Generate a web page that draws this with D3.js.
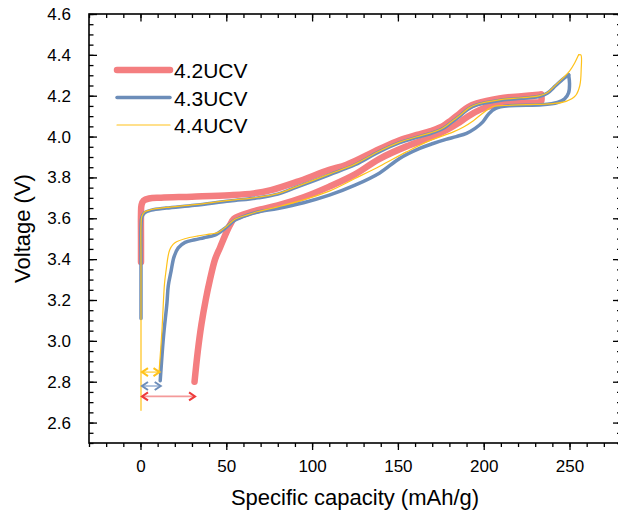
<!DOCTYPE html>
<html>
<head>
<meta charset="utf-8">
<script src="https://cdn.jsdelivr.net/npm/d3@7"></script>
<style>
  html, body { margin: 0; padding: 0; background: #fff; }
  svg { display: block; font-family: "Liberation Sans", Arial, sans-serif; }
</style>
</head>
<body>
<svg id="chart" width="618" height="514"></svg>
<script>
// Charge / discharge curves: [specific capacity (mAh/g), voltage (V)]
const ucv42Charge = [[0.3,3.386],[0.3,3.50],[0.3,3.62],[0.6,3.665],[1.8,3.686],[5,3.697],[12,3.701],[30,3.706],[52,3.713],[66,3.722],[76,3.738],[91,3.778],[110,3.837],[120,3.862],[139,3.938],[151,3.982],[161,4.008],[169,4.027],[176,4.05],[181,4.08],[186,4.113],[191,4.145],[196,4.163],[209,4.187],[222,4.198],[233.5,4.206]];
const ucv42Discharge = [[233.5,4.206],[233.7,4.19],[233.4,4.172],[225,4.166],[215,4.161],[205,4.152],[198,4.132],[191,4.10],[185,4.065],[179,4.035],[169,3.995],[155,3.952],[139,3.89],[125,3.815],[110,3.755],[95,3.703],[80,3.663],[70,3.643],[63,3.627],[58,3.613],[54.5,3.598],[52,3.565],[49.5,3.52],[46.5,3.46],[43.5,3.40],[40.5,3.30],[38,3.20],[35.5,3.08],[33.4,2.95],[31.5,2.80]];

const ucv43Charge = [[0.3,3.11],[0.3,3.40],[0.3,3.56],[0.8,3.605],[2.5,3.628],[6.4,3.64],[15,3.65],[31.6,3.664],[52,3.685],[68.5,3.70],[80,3.718],[91,3.752],[110,3.813],[125,3.862],[139,3.925],[151,3.97],[161,3.996],[169,4.015],[176,4.038],[181,4.068],[186,4.10],[191,4.135],[196,4.155],[209,4.177],[222,4.187],[232,4.196],[237,4.212],[242,4.25],[246,4.28],[249.5,4.302]];
const ucv43Discharge = [[249.5,4.302],[250,4.26],[249.5,4.215],[247,4.183],[243,4.167],[234,4.156],[215,4.151],[207,4.138],[203,4.112],[199.5,4.072],[195,4.04],[190,4.016],[184,4.0],[178,3.986],[170.5,3.966],[162.7,3.942],[151,3.893],[139.4,3.822],[125,3.762],[110,3.713],[95,3.676],[80,3.648],[68.5,3.631],[62.7,3.617],[54.9,3.59],[49.1,3.55],[43.3,3.518],[37,3.505],[31.6,3.495],[26,3.482],[22,3.455],[19.5,3.41],[17.8,3.34],[16.2,3.27],[15.4,3.183],[13.4,3.02],[11.5,2.805]];

const ucv44Charge = [[0.3,2.66],[0.3,3.40],[0.3,3.565],[0.8,3.61],[2.5,3.632],[6.4,3.643],[15,3.653],[31.6,3.667],[52,3.688],[68.5,3.703],[80,3.721],[91,3.755],[110,3.816],[125,3.865],[139,3.928],[151,3.973],[161,3.999],[169,4.018],[176,4.041],[181,4.071],[186,4.103],[191,4.138],[196,4.158],[209,4.18],[222,4.19],[232,4.199],[237,4.215],[242,4.253],[246,4.285],[250,4.32],[253,4.36],[255.3,4.40]];
const ucv44Discharge = [[255.3,4.40],[256.6,4.40],[256.8,4.33],[256,4.25],[253.5,4.20],[248,4.172],[240,4.161],[225,4.156],[212,4.152],[205,4.146],[200,4.118],[194,4.078],[188,4.046],[182,4.022],[168.5,3.98],[155,3.925],[139.4,3.855],[125,3.795],[110,3.733],[95,3.69],[80,3.656],[68.5,3.633],[62.7,3.618],[55,3.595],[50,3.56],[45,3.53],[41.3,3.524],[33,3.513],[25.8,3.50],[21,3.485],[19,3.472],[17,3.445],[16,3.41],[15,3.35],[14,3.28],[12.5,3.05],[10.8,2.845]];

const seriesNames = ["4.2UCV", "4.3UCV", "4.4UCV"];
const seriesColors = ["#F47E80", "#6C8DB9", "#FFC21A"];
const seriesWidths = [6.5, 3.5, 1.2];
const seriesCurves = [
  [ucv42Charge, ucv42Discharge],
  [ucv43Charge, ucv43Discharge],
  [ucv44Charge, ucv44Discharge]
];

// Irreversible capacity arrows: span from 0 to the discharge end, drawn at a given voltage
const arrowVoltages = [2.728, 2.779, 2.847];
const arrowHeadColors = ["#EE3B3B", "#6C8DB9", "#FFC21A"];
const arrowLineColors = ["#F49A9A", "#9DB5D6", "#FFD966"];

const xTickValues = [0, 50, 100, 150, 200, 250];
const yTickValues = [2.6, 2.8, 3.0, 3.2, 3.4, 3.6, 3.8, 4.0, 4.2, 4.4, 4.6];

const svg = d3.select("#chart");
const margin = { left: 89, top: 14, right: 621, bottom: 443 };

const x = d3.scaleLinear().domain([-30, 280]).range([margin.left, margin.right]);
const y = d3.scaleLinear().domain([2.5, 4.6]).range([margin.bottom, margin.top]);

const xMinor = d3.range(-30, 281, 10);
const yMinor = d3.range(2.5, 4.601, 0.05).map(v => +v.toFixed(2));

// Axes: bottom ticks outward, other three sides inward
function styleAxis(g) {
  g.select(".domain").remove();
  g.selectAll(".tick line").attr("stroke", "#000").attr("stroke-width", 1.3);
}
const tickFont = 17;

svg.append("g").attr("transform", `translate(0,${margin.bottom})`)
  .call(d3.axisBottom(x).tickValues(xMinor).tickSize(4).tickFormat(""))
  .call(styleAxis);
svg.append("g").attr("transform", `translate(0,${margin.bottom})`)
  .call(d3.axisBottom(x).tickValues(xTickValues).tickSize(7).tickPadding(10).tickFormat(d3.format("d")))
  .call(styleAxis)
  .call(g => g.selectAll("text").attr("font-size", tickFont).attr("fill", "#000").attr("font-family", "Liberation Sans, Arial, sans-serif"));

svg.append("g").attr("transform", `translate(0,${margin.top})`)
  .call(d3.axisTop(x).tickValues(xMinor).tickSize(-4).tickFormat(""))
  .call(styleAxis);
svg.append("g").attr("transform", `translate(0,${margin.top})`)
  .call(d3.axisTop(x).tickValues(xTickValues).tickSize(-7.5).tickFormat(""))
  .call(styleAxis);

svg.append("g").attr("transform", `translate(${margin.left},0)`)
  .call(d3.axisLeft(y).tickValues(yMinor).tickSize(-4.5).tickFormat(""))
  .call(styleAxis);
svg.append("g").attr("transform", `translate(${margin.left},0)`)
  .call(d3.axisLeft(y).tickValues(yTickValues).tickSize(-8).tickPadding(18).tickFormat(d3.format(".1f")))
  .call(styleAxis)
  .call(g => g.selectAll("text").attr("font-size", tickFont).attr("fill", "#000").attr("font-family", "Liberation Sans, Arial, sans-serif"));

svg.append("g").attr("transform", `translate(${margin.right},0)`)
  .call(d3.axisRight(y).tickValues(yMinor).tickSize(-4).tickFormat(""))
  .call(styleAxis);
svg.append("g").attr("transform", `translate(${margin.right},0)`)
  .call(d3.axisRight(y).tickValues(yTickValues).tickSize(-8).tickFormat(""))
  .call(styleAxis);

// Frame
svg.append("rect")
  .attr("x", margin.left).attr("y", margin.top)
  .attr("width", margin.right - margin.left).attr("height", margin.bottom - margin.top)
  .attr("fill", "none").attr("stroke", "#000").attr("stroke-width", 1.6);

// Curves
const line = d3.line()
  .x(d => x(d[0])).y(d => y(d[1]))
  .curve(d3.curveCatmullRom.alpha(0.5));

seriesCurves.forEach((curves, i) => {
  curves.forEach(pts => {
    svg.append("path")
      .datum(pts)
      .attr("d", line)
      .attr("fill", "none")
      .attr("stroke", seriesColors[i])
      .attr("stroke-width", seriesWidths[i])
      .attr("stroke-linecap", "round")
      .attr("stroke-linejoin", "round");
  });
});

// Double arrows marking the capacity offset of each discharge curve
seriesCurves.forEach((curves, i) => {
  const dis = curves[1];
  const endCap = dis[dis.length - 1][0];
  const yy = y(arrowVoltages[i]);
  const x0 = x(0) + 1.5, x1 = x(endCap) + 0.5;
  svg.append("line")
    .attr("x1", x0).attr("x2", x1).attr("y1", yy).attr("y2", yy)
    .attr("stroke", arrowLineColors[i]).attr("stroke-width", 1.6);
  const head = (tipX, dir) => `M${tipX + dir * 6},${yy - 4}L${tipX},${yy}L${tipX + dir * 6},${yy + 4}`;
  [[x0, 1], [x1, -1]].forEach(([tx, dir]) => {
    svg.append("path")
      .attr("d", head(tx, dir))
      .attr("fill", "none")
      .attr("stroke", arrowHeadColors[i])
      .attr("stroke-width", 2)
      .attr("stroke-linejoin", "miter");
  });
});

// Legend
const legendY = [70, 97.5, 125];
seriesNames.forEach((name, i) => {
  svg.append("line")
    .attr("x1", 117).attr("x2", 170)
    .attr("y1", legendY[i]).attr("y2", legendY[i])
    .attr("stroke", seriesColors[i])
    .attr("stroke-width", seriesWidths[i])
    .attr("stroke-linecap", "round");
  svg.append("text")
    .attr("x", 174).attr("y", legendY[i] + 8)
    .attr("font-size", 21)
    .attr("fill", "#000")
    .text(name);
});

// Axis titles
svg.append("text")
  .attr("x", (margin.left + margin.right) / 2).attr("y", 505)
  .attr("text-anchor", "middle")
  .attr("font-size", 22)
  .text("Specific capacity (mAh/g)");

svg.append("text")
  .attr("transform", `translate(30,${(margin.top + margin.bottom) / 2}) rotate(-90)`)
  .attr("text-anchor", "middle")
  .attr("font-size", 22)
  .text("Voltage (V)");
</script>
</body>
</html>
